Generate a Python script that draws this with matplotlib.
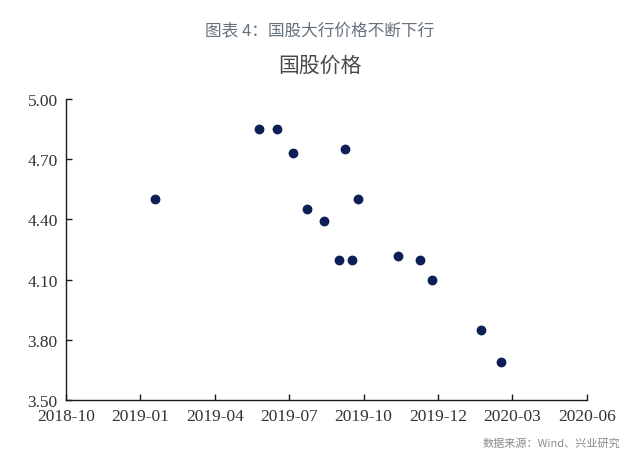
import matplotlib
matplotlib.use("Agg")
import matplotlib.pyplot as plt
import matplotlib.dates as mdates
import pandas as pd
import numpy as np

dates = ["2019-01-27", "2019-05-31", "2019-06-22", "2019-07-11", "2019-07-27",
         "2019-08-17", "2019-09-04", "2019-09-11", "2019-09-19", "2019-09-26",
         "2019-11-13", "2019-12-09", "2019-12-24", "2020-02-20", "2020-03-15"]
prices = [4.50, 4.85, 4.85, 4.73, 4.45,
          4.39, 4.20, 4.75, 4.20, 4.50,
          4.22, 4.20, 4.10, 3.85, 3.69]
x_tick_labels = ["2018-10", "2019-01", "2019-04", "2019-07",
                 "2019-10", "2019-12", "2020-03", "2020-06"]
y_ticks = [3.50, 3.80, 4.10, 4.40, 4.70, 5.00]
title = "图表 4：国股大行价格不断下行"
subtitle = "国股价格"
source = "数据来源：Wind、兴业研究"

cjk = ["Noto Sans CJK SC", "DejaVu Sans"]
serif = ["Liberation Serif", "DejaVu Serif"]

fig = plt.figure(figsize=(6.4, 4.64), dpi=100)
ax = fig.add_axes([0.103, 0.136, 0.814, 0.648])

x = mdates.date2num(pd.to_datetime(dates))
ax.scatter(x, prices, s=50, color="#0e1f56", zorder=3, linewidths=0)

x0 = mdates.date2num(pd.Timestamp("2018-10-12"))
x1 = mdates.date2num(pd.Timestamp("2020-06-26"))
ax.set_xlim(x0, x1)
ax.set_xticks(np.linspace(x0, x1, len(x_tick_labels)))
ax.set_xticklabels(x_tick_labels)
ax.set_ylim(3.50, 5.00)
ax.set_yticks(y_ticks)
ax.set_yticklabels([f"{v:.2f}" for v in y_ticks])

for sp in ["top", "right"]:
    ax.spines[sp].set_visible(False)
for sp in ["left", "bottom"]:
    ax.spines[sp].set_color("#1a1a1a")
    ax.spines[sp].set_linewidth(1.0)
ax.tick_params(direction="in", length=4, width=1.0, color="#1a1a1a",
               labelsize=12.5, labelcolor="#333333", pad=6)
for lab in ax.get_xticklabels() + ax.get_yticklabels():
    lab.set_family(serif)

fig.text(0.5, 1 - 32 / 464, title, ha="center", va="center", fontsize=12,
         color="#66717e", family=cjk, fontweight="medium")
fig.text(0.5, 1 - 66 / 464, subtitle, ha="center", va="center", fontsize=15,
         color="#4a4a4a", family=cjk, fontweight="light")
fig.text(620 / 640, 1 - 444 / 464, source, ha="right", va="center", fontsize=8,
         color="#8a8a8a", family=cjk)

fig.savefig("out.png", dpi=100)
